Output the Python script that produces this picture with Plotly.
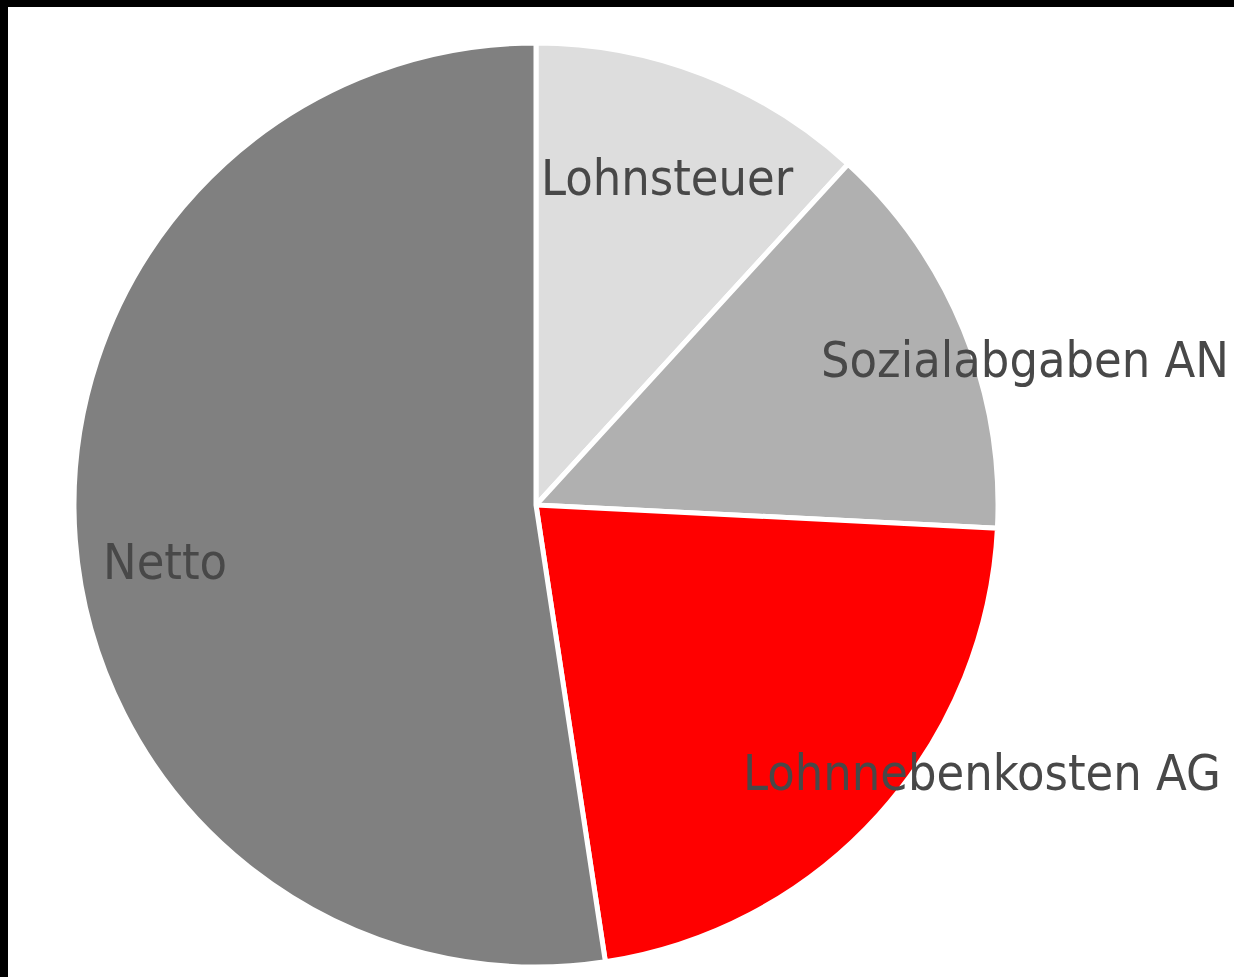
import plotly.graph_objects as go

W, H = 1234, 977

labels = ["Lohnsteuer", "Sozialabgaben AN", "Lohnnebenkosten AG", "Netto"]
values = [11.8, 14.0, 21.8, 52.4]
colors = ["#DDDDDD", "#B0B0B0", "#FF0000", "#808080"]

# label anchor positions (pixels from top-left, left-anchored)
label_px = [(539, 178), (819, 360), (741, 773), (101, 562)]

cx, cy, r = 536, 505, 462

fig = go.Figure(go.Pie(
    labels=labels, values=values, sort=False, direction="clockwise", rotation=0,
    marker=dict(colors=colors, line=dict(color="white", width=5)),
    textinfo="none", hoverinfo="label+value", showlegend=False,
    domain=dict(x=[(cx - r) / W, (cx + r) / W], y=[(H - cy - r) / H, (H - cy + r) / H]),
))

for lab, (px, py) in zip(labels, label_px):
    fig.add_annotation(text=lab, x=px / W, y=1 - py / H, xref="paper", yref="paper",
                       xanchor="left", yanchor="middle", showarrow=False,
                       font=dict(family="DejaVu Sans Condensed", size=50, color="#484848"))

fig.add_shape(type="rect", xref="paper", yref="paper", x0=8 / W, x1=1.01, y0=-0.01, y1=1 - 7 / H,
              fillcolor="white", line=dict(width=0), layer="below")

fig.update_layout(width=W, height=H, margin=dict(l=0, r=0, t=0, b=0),
                  paper_bgcolor="black", plot_bgcolor="white")
fig.write_html("out.html", config={"displayModeBar": False},
               post_script="document.body.style.margin='0';document.body.style.background='black';document.body.style.overflow='hidden';")
